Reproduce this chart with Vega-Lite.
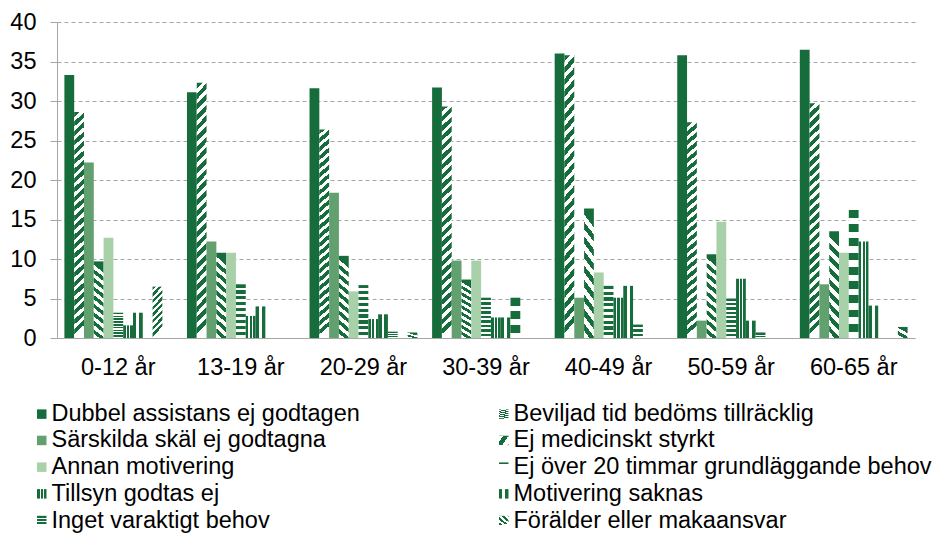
{
  "$schema": "https://vega.github.io/schema/vega-lite/v6.json",
  "width": 858,
  "height": 316,
  "autosize": "none",
  "padding": {"left": 57, "top": 22, "right": 31, "bottom": 197},
  "background": "white",
  "config": {"view": {"stroke": null}, "font": "Liberation Sans"},
  "data": {"values": [
    {"age": "0-12 år", "reason": "Dubbel assistans ej godtagen", "value": 33.3},
    {"age": "13-19 år", "reason": "Dubbel assistans ej godtagen", "value": 31.1},
    {"age": "20-29 år", "reason": "Dubbel assistans ej godtagen", "value": 31.6},
    {"age": "30-39 år", "reason": "Dubbel assistans ej godtagen", "value": 31.7},
    {"age": "40-49 år", "reason": "Dubbel assistans ej godtagen", "value": 36.0},
    {"age": "50-59 år", "reason": "Dubbel assistans ej godtagen", "value": 35.8},
    {"age": "60-65 år", "reason": "Dubbel assistans ej godtagen", "value": 36.5},
    {"age": "0-12 år", "reason": "Beviljad tid bedöms tillräcklig", "value": 28.6},
    {"age": "13-19 år", "reason": "Beviljad tid bedöms tillräcklig", "value": 32.3},
    {"age": "20-29 år", "reason": "Beviljad tid bedöms tillräcklig", "value": 26.4},
    {"age": "30-39 år", "reason": "Beviljad tid bedöms tillräcklig", "value": 29.3},
    {"age": "40-49 år", "reason": "Beviljad tid bedöms tillräcklig", "value": 35.8},
    {"age": "50-59 år", "reason": "Beviljad tid bedöms tillräcklig", "value": 27.3},
    {"age": "60-65 år", "reason": "Beviljad tid bedöms tillräcklig", "value": 29.7},
    {"age": "0-12 år", "reason": "Särskilda skäl ej godtagna", "value": 22.2},
    {"age": "13-19 år", "reason": "Särskilda skäl ej godtagna", "value": 12.2},
    {"age": "20-29 år", "reason": "Särskilda skäl ej godtagna", "value": 18.4},
    {"age": "30-39 år", "reason": "Särskilda skäl ej godtagna", "value": 9.8},
    {"age": "40-49 år", "reason": "Särskilda skäl ej godtagna", "value": 5.1},
    {"age": "50-59 år", "reason": "Särskilda skäl ej godtagna", "value": 2.2},
    {"age": "60-65 år", "reason": "Särskilda skäl ej godtagna", "value": 6.8},
    {"age": "0-12 år", "reason": "Ej medicinskt styrkt", "value": 9.7},
    {"age": "13-19 år", "reason": "Ej medicinskt styrkt", "value": 10.8},
    {"age": "20-29 år", "reason": "Ej medicinskt styrkt", "value": 10.4},
    {"age": "30-39 år", "reason": "Ej medicinskt styrkt", "value": 7.4},
    {"age": "40-49 år", "reason": "Ej medicinskt styrkt", "value": 16.4},
    {"age": "50-59 år", "reason": "Ej medicinskt styrkt", "value": 10.6},
    {"age": "60-65 år", "reason": "Ej medicinskt styrkt", "value": 13.5},
    {"age": "0-12 år", "reason": "Annan motivering", "value": 12.7},
    {"age": "13-19 år", "reason": "Annan motivering", "value": 10.8},
    {"age": "20-29 år", "reason": "Annan motivering", "value": 5.9},
    {"age": "30-39 år", "reason": "Annan motivering", "value": 9.8},
    {"age": "40-49 år", "reason": "Annan motivering", "value": 8.3},
    {"age": "50-59 år", "reason": "Annan motivering", "value": 14.7},
    {"age": "60-65 år", "reason": "Annan motivering", "value": 10.8},
    {"age": "0-12 år", "reason": "Ej över 20 timmar grundläggande behov", "value": 3.2},
    {"age": "13-19 år", "reason": "Ej över 20 timmar grundläggande behov", "value": 6.8},
    {"age": "20-29 år", "reason": "Ej över 20 timmar grundläggande behov", "value": 6.7},
    {"age": "30-39 år", "reason": "Ej över 20 timmar grundläggande behov", "value": 5.1},
    {"age": "40-49 år", "reason": "Ej över 20 timmar grundläggande behov", "value": 6.6},
    {"age": "50-59 år", "reason": "Ej över 20 timmar grundläggande behov", "value": 5.0},
    {"age": "60-65 år", "reason": "Ej över 20 timmar grundläggande behov", "value": 16.2},
    {"age": "0-12 år", "reason": "Tillsyn godtas ej", "value": 1.6},
    {"age": "13-19 år", "reason": "Tillsyn godtas ej", "value": 2.8},
    {"age": "20-29 år", "reason": "Tillsyn godtas ej", "value": 2.4},
    {"age": "30-39 år", "reason": "Tillsyn godtas ej", "value": 2.6},
    {"age": "40-49 år", "reason": "Tillsyn godtas ej", "value": 5.1},
    {"age": "50-59 år", "reason": "Tillsyn godtas ej", "value": 7.5},
    {"age": "60-65 år", "reason": "Tillsyn godtas ej", "value": 12.2},
    {"age": "0-12 år", "reason": "Motivering saknas", "value": 3.2},
    {"age": "13-19 år", "reason": "Motivering saknas", "value": 4.0},
    {"age": "20-29 år", "reason": "Motivering saknas", "value": 3.0},
    {"age": "30-39 år", "reason": "Motivering saknas", "value": 2.6},
    {"age": "40-49 år", "reason": "Motivering saknas", "value": 6.6},
    {"age": "50-59 år", "reason": "Motivering saknas", "value": 2.2},
    {"age": "60-65 år", "reason": "Motivering saknas", "value": 4.1},
    {"age": "20-29 år", "reason": "Inget varaktigt behov", "value": 0.8},
    {"age": "30-39 år", "reason": "Inget varaktigt behov", "value": 5.1},
    {"age": "40-49 år", "reason": "Inget varaktigt behov", "value": 1.7},
    {"age": "50-59 år", "reason": "Inget varaktigt behov", "value": 0.7},
    {"age": "0-12 år", "reason": "Förälder eller makaansvar", "value": 6.5},
    {"age": "20-29 år", "reason": "Övrigt", "value": 0.7},
    {"age": "60-65 år", "reason": "Övrigt", "value": 1.4}
  ]},
  "mark": {"type": "bar"},
  "encoding": {
    "x": {
      "field": "age", "type": "nominal",
      "sort": ["0-12 år", "13-19 år", "20-29 år", "30-39 år", "40-49 år", "50-59 år", "60-65 år"],
      "scale": {"paddingInner": 0, "paddingOuter": 0},
      "axis": {"title": null, "labelAngle": 0, "labelFontSize": 23.5, "labelColor": "#000", "ticks": false, "labelPadding": 17, "domainColor": "#a6a6a6", "domainWidth": 1, "grid": false}
    },
    "xOffset": {
      "field": "reason", "type": "nominal",
      "scale": {"domain": ["Dubbel assistans ej godtagen", "Beviljad tid bedöms tillräcklig", "Särskilda skäl ej godtagna", "Ej medicinskt styrkt", "Annan motivering", "Ej över 20 timmar grundläggande behov", "Tillsyn godtas ej", "Motivering saknas", "Inget varaktigt behov", "Förälder eller makaansvar", "Övrigt"], "paddingInner": 0, "paddingOuter": 0.755}
    },
    "y": {
      "field": "value", "type": "quantitative",
      "scale": {"domain": [0, 40]},
      "axis": {"title": null, "values": [0, 5, 10, 15, 20, 25, 30, 35, 40], "labelFontSize": 23.5, "labelColor": "#000", "tickSize": 7, "tickColor": "#a6a6a6", "labelPadding": 14, "domainColor": "#a6a6a6", "gridColor": "#a6a6a6", "gridDash": [4, 3], "grid": true}
    },
    "color": {
      "field": "reason", "type": "nominal",
      "scale": {
        "domain": ["Dubbel assistans ej godtagen", "Beviljad tid bedöms tillräcklig", "Särskilda skäl ej godtagna", "Ej medicinskt styrkt", "Annan motivering", "Ej över 20 timmar grundläggande behov", "Tillsyn godtas ej", "Motivering saknas", "Inget varaktigt behov", "Förälder eller makaansvar", "Övrigt"],
        "range": [
          "#176c3c",
          {"expr": "{gradient:'linear',x1:0,y1:0,x2:0.04,y2:1,stops:[{offset:0,color:'#176c3c'},{offset:0.0229,color:'#176c3c'},{offset:0.0229,color:'#fff'},{offset:0.0417,color:'#fff'},{offset:0.0417,color:'#176c3c'},{offset:0.0646,color:'#176c3c'},{offset:0.0646,color:'#fff'},{offset:0.0833,color:'#fff'},{offset:0.0833,color:'#176c3c'},{offset:0.1063,color:'#176c3c'},{offset:0.1063,color:'#fff'},{offset:0.125,color:'#fff'},{offset:0.125,color:'#176c3c'},{offset:0.1479,color:'#176c3c'},{offset:0.1479,color:'#fff'},{offset:0.1667,color:'#fff'},{offset:0.1667,color:'#176c3c'},{offset:0.1896,color:'#176c3c'},{offset:0.1896,color:'#fff'},{offset:0.2083,color:'#fff'},{offset:0.2083,color:'#176c3c'},{offset:0.2313,color:'#176c3c'},{offset:0.2313,color:'#fff'},{offset:0.25,color:'#fff'},{offset:0.25,color:'#176c3c'},{offset:0.2729,color:'#176c3c'},{offset:0.2729,color:'#fff'},{offset:0.2917,color:'#fff'},{offset:0.2917,color:'#176c3c'},{offset:0.3146,color:'#176c3c'},{offset:0.3146,color:'#fff'},{offset:0.3333,color:'#fff'},{offset:0.3333,color:'#176c3c'},{offset:0.3563,color:'#176c3c'},{offset:0.3563,color:'#fff'},{offset:0.375,color:'#fff'},{offset:0.375,color:'#176c3c'},{offset:0.3979,color:'#176c3c'},{offset:0.3979,color:'#fff'},{offset:0.4167,color:'#fff'},{offset:0.4167,color:'#176c3c'},{offset:0.4396,color:'#176c3c'},{offset:0.4396,color:'#fff'},{offset:0.4583,color:'#fff'},{offset:0.4583,color:'#176c3c'},{offset:0.4813,color:'#176c3c'},{offset:0.4813,color:'#fff'},{offset:0.5,color:'#fff'},{offset:0.5,color:'#176c3c'},{offset:0.5229,color:'#176c3c'},{offset:0.5229,color:'#fff'},{offset:0.5417,color:'#fff'},{offset:0.5417,color:'#176c3c'},{offset:0.5646,color:'#176c3c'},{offset:0.5646,color:'#fff'},{offset:0.5833,color:'#fff'},{offset:0.5833,color:'#176c3c'},{offset:0.6063,color:'#176c3c'},{offset:0.6063,color:'#fff'},{offset:0.625,color:'#fff'},{offset:0.625,color:'#176c3c'},{offset:0.6479,color:'#176c3c'},{offset:0.6479,color:'#fff'},{offset:0.6667,color:'#fff'},{offset:0.6667,color:'#176c3c'},{offset:0.6896,color:'#176c3c'},{offset:0.6896,color:'#fff'},{offset:0.7083,color:'#fff'},{offset:0.7083,color:'#176c3c'},{offset:0.7313,color:'#176c3c'},{offset:0.7313,color:'#fff'},{offset:0.75,color:'#fff'},{offset:0.75,color:'#176c3c'},{offset:0.7729,color:'#176c3c'},{offset:0.7729,color:'#fff'},{offset:0.7917,color:'#fff'},{offset:0.7917,color:'#176c3c'},{offset:0.8146,color:'#176c3c'},{offset:0.8146,color:'#fff'},{offset:0.8333,color:'#fff'},{offset:0.8333,color:'#176c3c'},{offset:0.8563,color:'#176c3c'},{offset:0.8563,color:'#fff'},{offset:0.875,color:'#fff'},{offset:0.875,color:'#176c3c'},{offset:0.8979,color:'#176c3c'},{offset:0.8979,color:'#fff'},{offset:0.9167,color:'#fff'},{offset:0.9167,color:'#176c3c'},{offset:0.9396,color:'#176c3c'},{offset:0.9396,color:'#fff'},{offset:0.9583,color:'#fff'},{offset:0.9583,color:'#176c3c'},{offset:0.9813,color:'#176c3c'},{offset:0.9813,color:'#fff'},{offset:1,color:'#fff'}]}"},
          "#63a06f",
          {"expr": "{gradient:'linear',x1:0.1,y1:0,x2:0,y2:1,stops:[{offset:0,color:'#176c3c'},{offset:0.0556,color:'#176c3c'},{offset:0.0556,color:'#fff'},{offset:0.1111,color:'#fff'},{offset:0.1111,color:'#176c3c'},{offset:0.1667,color:'#176c3c'},{offset:0.1667,color:'#fff'},{offset:0.2222,color:'#fff'},{offset:0.2222,color:'#176c3c'},{offset:0.2778,color:'#176c3c'},{offset:0.2778,color:'#fff'},{offset:0.3333,color:'#fff'},{offset:0.3333,color:'#176c3c'},{offset:0.3889,color:'#176c3c'},{offset:0.3889,color:'#fff'},{offset:0.4444,color:'#fff'},{offset:0.4444,color:'#176c3c'},{offset:0.5,color:'#176c3c'},{offset:0.5,color:'#fff'},{offset:0.5556,color:'#fff'},{offset:0.5556,color:'#176c3c'},{offset:0.6111,color:'#176c3c'},{offset:0.6111,color:'#fff'},{offset:0.6667,color:'#fff'},{offset:0.6667,color:'#176c3c'},{offset:0.7222,color:'#176c3c'},{offset:0.7222,color:'#fff'},{offset:0.7778,color:'#fff'},{offset:0.7778,color:'#176c3c'},{offset:0.8333,color:'#176c3c'},{offset:0.8333,color:'#fff'},{offset:0.8889,color:'#fff'},{offset:0.8889,color:'#176c3c'},{offset:0.9444,color:'#176c3c'},{offset:0.9444,color:'#fff'},{offset:1,color:'#fff'}]}"},
          "#a9d1a9",
          {"expr": "{gradient:'linear',x1:0,y1:0,x2:0,y2:1,stops:[{offset:0,color:'#176c3c'},{offset:0.0611,color:'#176c3c'},{offset:0.0611,color:'#fff'},{offset:0.1111,color:'#fff'},{offset:0.1111,color:'#176c3c'},{offset:0.1722,color:'#176c3c'},{offset:0.1722,color:'#fff'},{offset:0.2222,color:'#fff'},{offset:0.2222,color:'#176c3c'},{offset:0.2833,color:'#176c3c'},{offset:0.2833,color:'#fff'},{offset:0.3333,color:'#fff'},{offset:0.3333,color:'#176c3c'},{offset:0.3944,color:'#176c3c'},{offset:0.3944,color:'#fff'},{offset:0.4444,color:'#fff'},{offset:0.4444,color:'#176c3c'},{offset:0.5056,color:'#176c3c'},{offset:0.5056,color:'#fff'},{offset:0.5556,color:'#fff'},{offset:0.5556,color:'#176c3c'},{offset:0.6167,color:'#176c3c'},{offset:0.6167,color:'#fff'},{offset:0.6667,color:'#fff'},{offset:0.6667,color:'#176c3c'},{offset:0.7278,color:'#176c3c'},{offset:0.7278,color:'#fff'},{offset:0.7778,color:'#fff'},{offset:0.7778,color:'#176c3c'},{offset:0.8389,color:'#176c3c'},{offset:0.8389,color:'#fff'},{offset:0.8889,color:'#fff'},{offset:0.8889,color:'#176c3c'},{offset:0.95,color:'#176c3c'},{offset:0.95,color:'#fff'},{offset:1,color:'#fff'}]}"},
          {"expr": "{gradient:'linear',x1:0,y1:0,x2:1,y2:0,stops:[{offset:0,color:'#176c3c'},{offset:0.28,color:'#176c3c'},{offset:0.28,color:'#fff'},{offset:0.4,color:'#fff'},{offset:0.4,color:'#176c3c'},{offset:0.62,color:'#176c3c'},{offset:0.62,color:'#fff'},{offset:0.74,color:'#fff'},{offset:0.74,color:'#176c3c'},{offset:1,color:'#176c3c'}]}"},
          {"expr": "{gradient:'linear',x1:0,y1:0,x2:1,y2:0,stops:[{offset:0,color:'#176c3c'},{offset:0.35,color:'#176c3c'},{offset:0.35,color:'#fff'},{offset:0.65,color:'#fff'},{offset:0.65,color:'#176c3c'},{offset:1,color:'#176c3c'}]}"},
          {"expr": "{gradient:'linear',x1:0,y1:0,x2:0,y2:1,stops:[{offset:0,color:'#176c3c'},{offset:0.2,color:'#176c3c'},{offset:0.2,color:'#fff'},{offset:0.3333,color:'#fff'},{offset:0.3333,color:'#176c3c'},{offset:0.5333,color:'#176c3c'},{offset:0.5333,color:'#fff'},{offset:0.6667,color:'#fff'},{offset:0.6667,color:'#176c3c'},{offset:0.8667,color:'#176c3c'},{offset:0.8667,color:'#fff'},{offset:1,color:'#fff'}]}"},
          {"expr": "{gradient:'linear',x1:0,y1:0,x2:0.2,y2:1,stops:[{offset:0,color:'#176c3c'},{offset:0.0625,color:'#176c3c'},{offset:0.0625,color:'#fff'},{offset:0.125,color:'#fff'},{offset:0.125,color:'#176c3c'},{offset:0.1875,color:'#176c3c'},{offset:0.1875,color:'#fff'},{offset:0.25,color:'#fff'},{offset:0.25,color:'#176c3c'},{offset:0.3125,color:'#176c3c'},{offset:0.3125,color:'#fff'},{offset:0.375,color:'#fff'},{offset:0.375,color:'#176c3c'},{offset:0.4375,color:'#176c3c'},{offset:0.4375,color:'#fff'},{offset:0.5,color:'#fff'},{offset:0.5,color:'#176c3c'},{offset:0.5625,color:'#176c3c'},{offset:0.5625,color:'#fff'},{offset:0.625,color:'#fff'},{offset:0.625,color:'#176c3c'},{offset:0.6875,color:'#176c3c'},{offset:0.6875,color:'#fff'},{offset:0.75,color:'#fff'},{offset:0.75,color:'#176c3c'},{offset:0.8125,color:'#176c3c'},{offset:0.8125,color:'#fff'},{offset:0.875,color:'#fff'},{offset:0.875,color:'#176c3c'},{offset:0.9375,color:'#176c3c'},{offset:0.9375,color:'#fff'},{offset:1,color:'#fff'}]}"},
          {"expr": "{gradient:'linear',x1:0.5,y1:0,x2:0,y2:1,stops:[{offset:0,color:'#176c3c'},{offset:0.25,color:'#176c3c'},{offset:0.25,color:'#fff'},{offset:0.5,color:'#fff'},{offset:0.5,color:'#176c3c'},{offset:0.75,color:'#176c3c'},{offset:0.75,color:'#fff'},{offset:1,color:'#fff'}]}"}
        ]
      },
      "legend": {
        "title": null,
        "orient": "none",
        "direction": "horizontal",
        "legendX": -27,
        "legendY": 380,
        "columns": 2,
        "columnPadding": 132,
        "rowPadding": 1.7,
        "padding": 0,
        "labelFontSize": 23.5,
        "labelColor": "#000",
        "labelOffset": -2,
        "labelLimit": 600,
        "symbolType": "square",
        "symbolSize": 90,
        "symbolStrokeWidth": 0,
        "values": ["Dubbel assistans ej godtagen", "Beviljad tid bedöms tillräcklig", "Särskilda skäl ej godtagna", "Ej medicinskt styrkt", "Annan motivering", "Ej över 20 timmar grundläggande behov", "Tillsyn godtas ej", "Motivering saknas", "Inget varaktigt behov", "Förälder eller makaansvar"]
      }
    }
  }
}
